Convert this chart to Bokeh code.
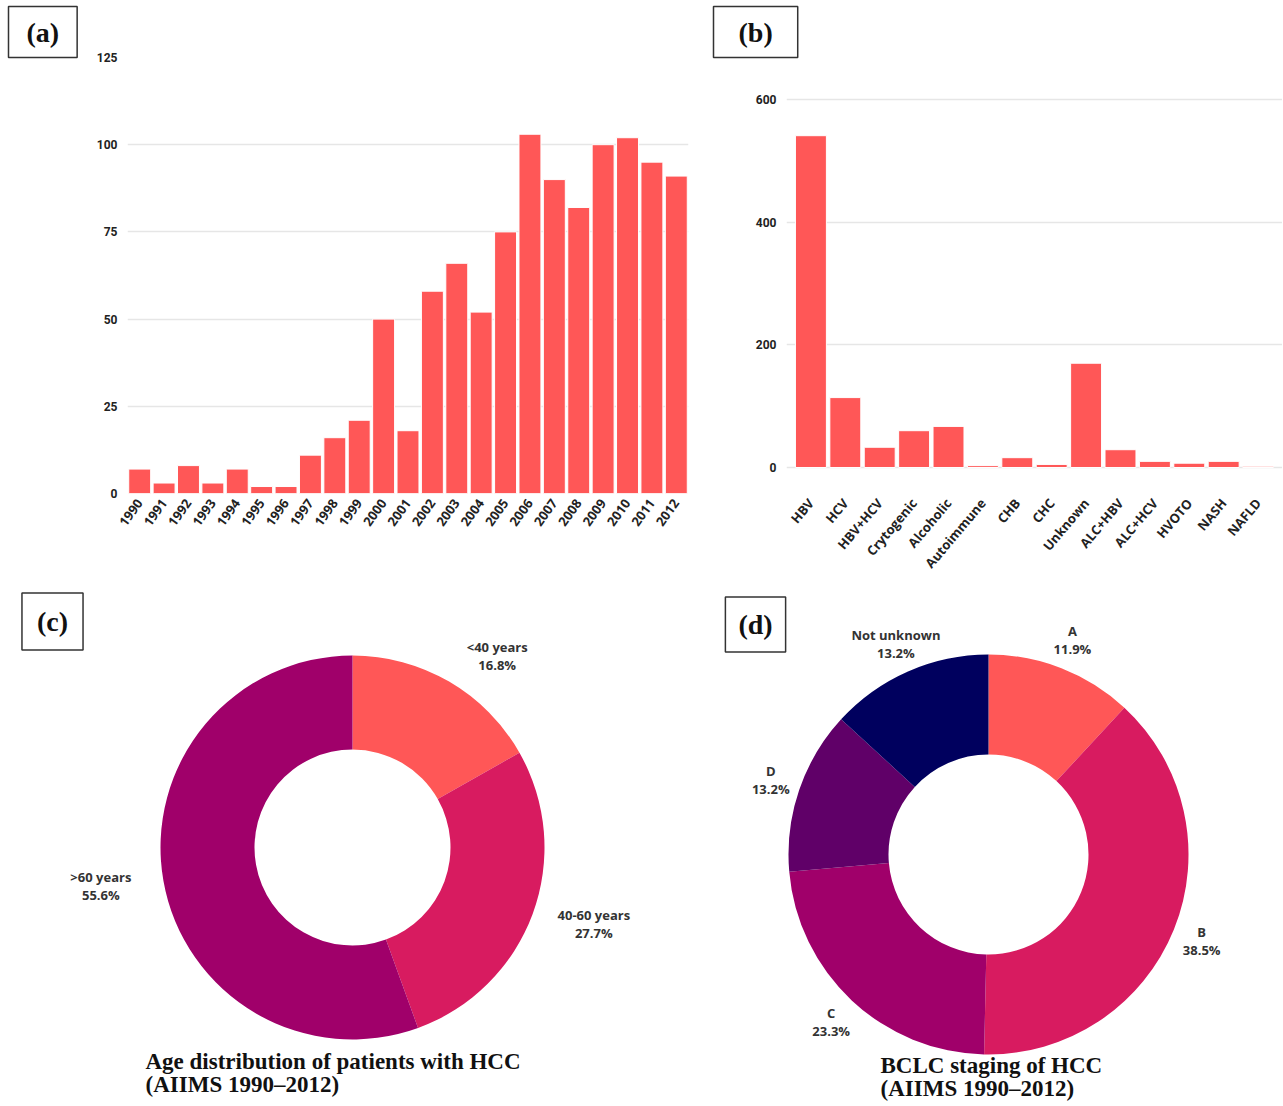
import numpy as np
from bokeh.plotting import figure
from bokeh.layouts import row, column
from bokeh.models import FactorRange, Range1d, FixedTicker, Label, Title
from bokeh.core.properties import value
from bokeh.embed import file_html
from bokeh.resources import INLINE

# ---------------- data ----------------
years = ["1990", "1991", "1992", "1993", "1994", "1995", "1996", "1997", "1998",
         "1999", "2000", "2001", "2002", "2003", "2004", "2005", "2006", "2007",
         "2008", "2009", "2010", "2011", "2012"]
cases_per_year = [7, 3, 8, 3, 7, 2, 2, 11, 16, 21, 50, 18, 58, 66, 52, 75, 103, 90,
                  82, 100, 102, 95, 91]
y_ticks_a = [0, 25, 50, 75, 100, 125]

etiologies = ["HBV", "HCV", "HBV+HCV", "Crytogenic", "Alcoholic", "Autoimmune", "CHB",
              "CHC", "Unknown", "ALC+HBV", "ALC+HCV", "HVOTO", "NASH", "NAFLD"]
etiology_counts = [541, 114, 33, 60, 67, 3, 16, 5, 170, 29, 10, 7, 10, 2]
y_ticks_b = [0, 200, 400, 600]

age_groups = ["<40 years", "40-60 years", ">60 years"]
age_pct = [16.8, 27.7, 55.6]

bclc_stages = ["A", "B", "C", "D", "Not unknown"]
bclc_pct = [11.9, 38.5, 23.3, 13.2, 13.2]

# ---------------- styles ----------------
BAR = "#FF5757"
AGE_COLORS = ["#FF5757", "#D81B60", "#A0006A"]
BCLC_COLORS = ["#FF5757", "#D81B60", "#A0006A", "#600068", "#00005E"]
GRID = "#E6E6E6"
TXT = "#222222"
LABEL_STYLE = dict(text_font="Liberation Serif", text_font_style="bold",
                   text_font_size="28px", text_color="#111111",
                   border_line_color="#333333", border_line_width=1.5,
                   background_fill_color="white")


def style_bar_axes(p, ticks, xsize, angle):
    p.outline_line_color = None
    p.xgrid.grid_line_color = None
    p.ygrid.grid_line_color = GRID
    p.ygrid.grid_line_width = 1.5
    p.yaxis.ticker = FixedTicker(ticks=ticks)
    p.ygrid.ticker = FixedTicker(ticks=ticks)
    for ax in (p.xaxis, p.yaxis):
        ax.axis_line_color = None
        ax.major_tick_line_color = None
        ax.minor_tick_line_color = None
        ax.major_tick_out = 0
        ax.major_tick_in = 0
        ax.major_label_text_font_style = "bold"
        ax.major_label_text_color = TXT
    p.yaxis.major_label_text_font = "Roboto"
    p.yaxis.major_label_text_font_size = "12px"
    p.yaxis.major_label_standoff = 10
    p.xaxis.major_label_text_font = "Open Sans"
    p.xaxis.major_label_text_font_size = xsize
    p.xaxis.major_label_orientation = angle
    p.xaxis.major_label_standoff = 7


def panel_title(p, text, offset, pad):
    p.add_layout(Title(text=text, align="left", offset=offset, standoff=0,
                       padding=pad, **LABEL_STYLE), "above")


# ---------------- (a) ----------------
pa = figure(x_range=FactorRange(*years), y_range=Range1d(0, 125),
            width=700, height=580, output_backend="svg", toolbar_location=None,
            min_border_left=127, min_border_right=12, min_border_top=57,
            min_border_bottom=87)
pa.vbar(x=years, top=cases_per_year, width=0.9, fill_color=BAR,
        line_color="white", line_width=1)
style_bar_axes(pa, y_ticks_a, "13px", 0.95)
panel_title(pa, "(a)", -119, (18, 10))

# ---------------- (b) ----------------
pb = figure(x_range=FactorRange(*etiologies, range_padding=0.03),
            y_range=Range1d(-42.4, 668.5),
            width=582, height=580, output_backend="svg", toolbar_location=None,
            min_border_left=86, min_border_right=0, min_border_top=57,
            min_border_bottom=87)
pb.vbar(x=etiologies, top=etiology_counts, width=0.9, fill_color=BAR,
        line_color="white", line_width=1)
style_bar_axes(pb, y_ticks_b, "13px", 0.87)
panel_title(pb, "(b)", -73, (25, 10))


# ---------------- donuts ----------------
def donut(width, height, xr, yr, names, pcts, colors, r_in, r_out, lab_gap, lab_shift,
          title, tx, ty, lab_text, lx, ly, lpad):
    p = figure(width=width, height=height, x_range=Range1d(*xr), y_range=Range1d(*yr),
               output_backend="svg", toolbar_location=None,
               x_axis_location=None, y_axis_location=None, min_border=0)
    p.grid.visible = False
    p.outline_line_color = None
    frac = np.array(pcts) / np.sum(pcts)
    cum = np.concatenate([[0], np.cumsum(frac)])
    start = np.pi / 2 - cum[:-1] * 2 * np.pi
    end = np.pi / 2 - cum[1:] * 2 * np.pi
    p.annular_wedge(x=0, y=0, inner_radius=r_in, outer_radius=r_out,
                    start_angle=start, end_angle=end, direction="clock",
                    fill_color=colors, line_color=None)
    mid = (start + end) / 2
    r_lab = r_out + lab_gap
    lxs = r_lab * np.cos(mid) + np.sign(np.cos(mid)) * lab_shift
    lys = r_lab * np.sin(mid)
    labels = [f"{n}\n{v}%" for n, v in zip(names, pcts)]
    p.text(x=lxs, y=lys, text=labels,
           text_font=value("Open Sans"), text_font_style="bold",
           text_font_size="13px", text_color="#333333", text_align="center",
           text_baseline="middle", text_line_height=1.0)
    p.text(x=[tx], y=[ty], text=[title], text_font=value("Liberation Serif"),
           text_font_style="bold", text_font_size="23px", text_color="#111111",
           text_align="left", text_baseline="top", text_line_height=0.95)
    p.add_layout(Label(x=lx, y=ly, text=lab_text, text_align="center",
                       text_baseline="middle", padding=lpad, **LABEL_STYLE))
    return p


pc = donut(700, 524, (-352, 348), (-257, 267), age_groups, age_pct, AGE_COLORS,
           98, 192, 30, 33,
           "Age distribution of patients with HCC\n(AIIMS 1990\u20132012)",
           -207, -201, "(c)", -300, 226, (15, 13))
pd_ = donut(582, 524, (-288, 294), (-250, 274), bclc_stages, bclc_pct, BCLC_COLORS,
            100, 200, 30, 0,
            "BCLC staging of HCC\n(AIIMS 1990\u20132012)",
            -108, -198, "(d)", -233, 230, (13, 12))

layout = column(row(pa, pb), row(pc, pd_))
open("out.html", "w").write(file_html(layout, INLINE))
